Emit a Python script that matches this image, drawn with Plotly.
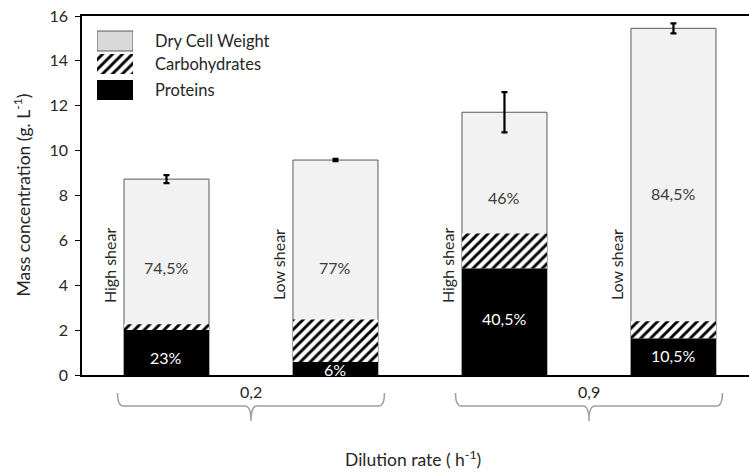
import plotly.graph_objects as go

# ---- data -------------------------------------------------------------
shear = ["High shear", "Low shear", "High shear", "Low shear"]
dilution_groups = ["0,2", "0,9"]
dry_cell_weight = [8.73, 9.58, 11.71, 15.45]      # g/L, total biomass
dcw_error = [0.18, 0.05, 0.90, 0.22]
protein_pct = [23, 6, 40.5, 10.5]                 # % of dry cell weight
carbohydrates = [0.25, 1.90, 1.56, 0.77]          # g/L
rest_pct_labels = ["74,5%", "77%", "46%", "84,5%"]
protein_pct_labels = ["23%", "6%", "40,5%", "10,5%"]

proteins = [w * p / 100 for w, p in zip(dry_cell_weight, protein_pct)]
xpos = list(range(len(shear)))

FONT = "Lato"
TXT = "#3a3a3a"
HATCH = dict(shape="/", fgcolor="#000000", bgcolor="#ffffff", fgopacity=1,
             size=7, solidity=0.42)


def py(pixel_y):
    """Convert a pixel row of the figure into paper y for the plot area."""
    return (375 - pixel_y) / 359


def px(pixel_x):
    return (pixel_x - 82) / 667


fig = go.Figure()

# total dry cell weight (drawn behind the composition)
fig.add_trace(go.Bar(
    x=xpos, y=dry_cell_weight, width=0.503,
    marker=dict(color="#f2f2f2", line=dict(color="#595959", width=1)),
    error_y=dict(type="data", array=dcw_error, color="black", thickness=2.2, width=3),
    showlegend=False, hoverinfo="skip",
))
# carbohydrates stacked on the proteins
fig.add_trace(go.Bar(
    x=xpos, y=carbohydrates, base=proteins, width=0.503,
    marker=dict(color="white", line=dict(width=0), pattern=HATCH),
    showlegend=False, hoverinfo="skip",
))
# proteins
fig.add_trace(go.Bar(
    x=xpos, y=proteins, width=0.503,
    marker=dict(color="black", line=dict(width=0)),
    showlegend=False, hoverinfo="skip",
))

# ---- legend key drawn on a small inset axis -----------------------------
key_names = ["Dry Cell Weight", "Carbohydrates", "Proteins"]
key_base = [49, 26, 0]
key_text_row = [41, 64, 90]
key_markers = [
    dict(color="#d9d9d9", line=dict(color="#595959", width=1)),
    dict(color="white", line=dict(width=0), pattern=HATCH),
    dict(color="black", line=dict(width=0)),
]
for b, m in zip(key_base, key_markers):
    fig.add_trace(go.Bar(x=[0], y=[20], base=[b], width=1, marker=m,
                         xaxis="x2", yaxis="y2", showlegend=False, hoverinfo="skip"))

annotations = []
for name, row in zip(key_names, key_text_row):
    annotations.append(dict(x=px(153), y=py(row), xref="paper", yref="paper", text=name,
                            showarrow=False, xanchor="left", yanchor="middle",
                            font=dict(family=FONT, size=16.5, color="#262626")))

# ---- text on the bars ---------------------------------------------------
rest_label_y = [4.77, 4.8, 7.93, 8.1]
protein_label_y = [0.76, 0.25, 2.5, 0.85]
for i in xpos:
    annotations.append(dict(x=i, y=rest_label_y[i], xref="x", yref="y",
                            text=rest_pct_labels[i], showarrow=False,
                            font=dict(family=FONT, size=16, color=TXT)))
    annotations.append(dict(x=i, y=protein_label_y[i], xref="x", yref="y",
                            text=protein_pct_labels[i], showarrow=False,
                            font=dict(family=FONT, size=16, color="white")))
    annotations.append(dict(x=i - 0.34, y=4.9, xref="x", yref="y",
                            text=shear[i], textangle=-90, showarrow=False,
                            font=dict(family=FONT, size=16, color="#262626")))

# ---- group braces under the axis ---------------------------------------
shapes = []
half, r = 0.79, 0.035
y_top, y_line, y_tip = -0.050, -0.0864, -0.128
for g, label in enumerate(dilution_groups):
    c = 2 * g + 0.5
    L, R = c - half, c + half
    path = (f"M{L},{y_top} Q{L},{y_line} {L + r},{y_line} "
            f"L{c - r},{y_line} Q{c},{y_line} {c},{y_tip} "
            f"Q{c},{y_line} {c + r},{y_line} "
            f"L{R - r},{y_line} Q{R},{y_line} {R},{y_top}")
    shapes.append(dict(type="path", path=path, xref="x", yref="paper",
                       line=dict(color="#a0a0a0", width=1.5)))
    annotations.append(dict(x=c, y=-0.047, xref="x", yref="paper", text=label,
                            showarrow=False, yanchor="middle",
                            font=dict(family=FONT, size=16, color="#262626")))

# ---- axis titles ---------------------------------------------------------
annotations.append(dict(x=px(413), y=py(458), xref="paper", yref="paper",
                        text="Dilution rate ( h<sup>-1</sup>)", showarrow=False,
                        yanchor="middle", font=dict(family=FONT, size=17.5, color="#262626")))
annotations.append(dict(x=px(22), y=0.5, xref="paper", yref="paper",
                        text="Mass concentration (g. L<sup>-1</sup>)", textangle=-90,
                        showarrow=False, xanchor="center", yanchor="middle",
                        font=dict(family=FONT, size=17.5, color="#262626")))

fig.update_layout(
    width=749, height=472,
    margin=dict(l=82, r=0, t=16, b=97),
    paper_bgcolor="white", plot_bgcolor="white",
    barmode="overlay",
    font=dict(family=FONT, color="#262626"),
    xaxis=dict(range=[-0.5, 3.447], showticklabels=False, ticks="",
               showline=True, linecolor="black", linewidth=1.5, mirror=True,
               showgrid=False, zeroline=False),
    yaxis=dict(range=[0, 16], dtick=2, ticks="outside", ticklen=5, tickwidth=1.2,
               tickcolor="black", showline=True, linecolor="black", linewidth=1.5,
               showgrid=False, zeroline=False, ticklabelstandoff=4,
               tickfont=dict(family=FONT, size=16, color="#262626")),
    xaxis2=dict(domain=[px(97), px(133)], range=[-0.5, 0.5],
                anchor="y2", visible=False, fixedrange=True),
    yaxis2=dict(domain=[py(100), py(30)], range=[0, 70],
                anchor="x2", visible=False, fixedrange=True),
    shapes=shapes,
    annotations=annotations,
)

fig.write_html("out.html")
